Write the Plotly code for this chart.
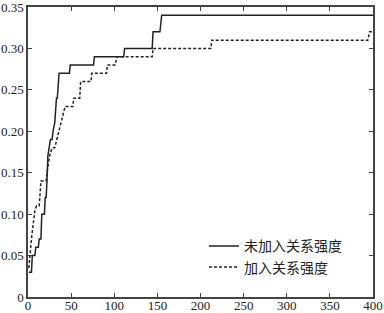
import plotly.graph_objects as go

# Series: 未加入关系强度 (solid)
x_solid = [1, 4, 5, 8, 9, 12, 13, 15, 16, 19, 20, 21, 22, 23, 26, 28, 29, 31, 33, 34, 36, 48, 49, 76, 77, 111, 112, 144, 145, 153, 155, 400]
y_solid = [0.03, 0.03, 0.05, 0.05, 0.06, 0.06, 0.07, 0.07, 0.10, 0.10, 0.12, 0.12, 0.14, 0.17, 0.19, 0.19, 0.20, 0.21, 0.24, 0.24, 0.27, 0.27, 0.28, 0.28, 0.29, 0.29, 0.30, 0.30, 0.32, 0.32, 0.34, 0.34]

# Series: 加入关系强度 (dotted)
x_dash = [1, 4, 8, 10, 13, 15, 21, 22, 25, 28, 31, 43, 52, 53, 60, 61, 73, 74, 91, 92, 101, 103, 144, 145, 212, 213, 394, 396, 400]
y_dash = [0.035, 0.07, 0.105, 0.11, 0.11, 0.14, 0.14, 0.15, 0.17, 0.18, 0.18, 0.23, 0.23, 0.24, 0.24, 0.26, 0.26, 0.27, 0.27, 0.28, 0.28, 0.29, 0.29, 0.30, 0.30, 0.31, 0.31, 0.32, 0.32]

names = ["未加入关系强度", "加入关系强度"]

x_ticks = [0, 50, 100, 150, 200, 250, 300, 350, 400]
x_ticktext = ["0", "50", "100", "150", "200", "250", "300", "350", "400"]
y_ticks = [0, 0.05, 0.10, 0.15, 0.20, 0.25, 0.30, 0.35]
y_ticktext = ["0", "0.05", "0.10", "0.15", "0.20", "0.25", "0.30", "0.35"]

fig = go.Figure()
fig.add_trace(go.Scatter(x=x_solid, y=y_solid, mode="lines", name=names[0],
                         line=dict(color="#222222", width=1.5)))
fig.add_trace(go.Scatter(x=x_dash, y=y_dash, mode="lines", name=names[1],
                         line=dict(color="#222222", width=1.5, dash="3px,2px")))

serif = "Liberation Serif, Tinos, Times New Roman, DejaVu Serif, serif"
axis_common = dict(showgrid=False, zeroline=False, showline=True, linecolor="#444444",
                   linewidth=1.5, mirror="ticks", ticks="inside", ticklen=4,
                   tickcolor="#444444", automargin=False, ticklabeloverflow="allow",
                   tickfont=dict(family=serif, size=13, color="#222222"))

fig.update_xaxes(range=[0, 400], tickvals=x_ticks, ticktext=x_ticktext,
                 ticklabelstandoff=-4, **axis_common)
fig.update_yaxes(range=[0, 0.35], tickvals=y_ticks, ticktext=y_ticktext, **axis_common)

fig.update_layout(
    width=384, height=313,
    margin=dict(l=28, r=11, t=7, b=16),
    plot_bgcolor="white", paper_bgcolor="white",
    showlegend=True,
    legend=dict(x=0.51, y=0.23, xanchor="left", yanchor="top",
                bgcolor="rgba(0,0,0,0)", borderwidth=0, itemwidth=30,
                font=dict(family="Noto Sans CJK SC", size=14, color="#222222"),
                tracegroupgap=0),
)

fig.write_html("out.html")
